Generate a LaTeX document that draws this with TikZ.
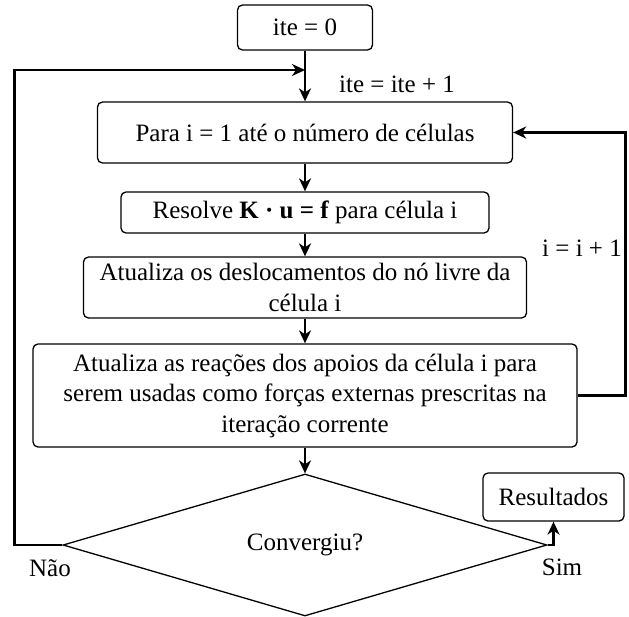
\documentclass[tikz,border=0pt]{standalone}
\usepackage{fontspec}
\setmainfont{Liberation Serif}
\usetikzlibrary{shapes,arrows,arrows.meta}
\tikzstyle{decision} = [draw, diamond, line width=1.3pt, inner sep=0pt, minimum width=484pt, minimum height=142pt]
\tikzstyle{block} = [rectangle, draw, line width=1.3pt, align=center, rounded corners=5pt, inner sep=0pt]
\tikzstyle{line} = [draw, line width=2.4pt, -{Stealth[length=13pt, width=12pt, inset=4pt]}]
\tikzstyle{textyn} = [rectangle, inner sep=0pt]

\begin{document}
\begin{tikzpicture}[node distance = 2cm, font=\fontsize{25}{30.5}\selectfont]
      \useasboundingbox (0pt,0pt) rectangle (629pt,-616pt);
      % Place nodes
      \node [block, minimum width=135pt, minimum height=45pt] (ite) at (305pt,-27.5pt) {ite = 0};
      \node [block, below of=ite, node distance=105pt, minimum width=415pt, minimum height=61pt] (para) {Para i = 1 até o número de células};
      \node [block, below of=para, node distance=80pt, minimum width=368pt, minimum height=41pt] (resolve) {Resolve \textbf{K · u = f} para célula i};
      \node [block, below of=resolve, node distance=75pt, minimum width=443pt, minimum height=61pt] (desloc) {Atualiza os deslocamentos do nó livre da\\célula i};
      \node [block, below of=desloc, node distance=108pt, minimum width=544pt, minimum height=103pt] (reac) {Atualiza as reações dos apoios da célula i para\\serem usadas como forças externas prescritas na\\iteração corrente};
      \node [decision, below of=reac, node distance=149.5pt] (conv) {Convergiu?};
      \node [block, minimum width=141pt, minimum height=48pt] (res) at (553.5pt,-497pt) {Resultados};

      \node [textyn] (itemais) at (397pt,-84pt) {ite = ite + 1};
      \node [textyn] (imais) at (582pt,-248pt) {i = i + 1};
      \node [textyn] (nao) at (50pt,-568pt) {Não};
      \node [textyn] (sim) at (562pt,-567pt) {Sim};
      \coordinate (join) at (305pt,-70pt);

      % Draw edges
      \path [line] (ite) -- (para);
      \path [line] (para) -- (resolve);
      \path [line] (resolve) -- (desloc);
      \path [line] (desloc) -- (reac);
      \path [line] (reac) -- (conv);
      \path [line] (reac.east) -- ++(48pt,0) |- (para.east);
      \path [line] (conv.west) -- ++(-48pt,0) |- (join);
      \path [line] (conv.east) -| (res.south);
    \end{tikzpicture}
\end{document}
